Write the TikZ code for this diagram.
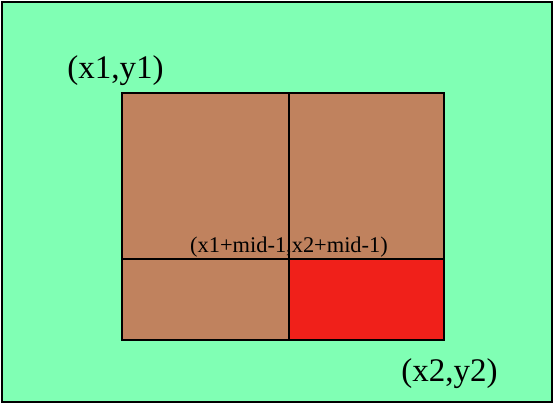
\documentclass[tikz,border=0pt]{standalone}
\usepackage{fontspec}
\setmainfont{Liberation Serif}
\usepackage{tikz}
\usetikzlibrary{positioning}
\definecolor{verdecito}{RGB}{128,255,180}
\definecolor{cafecito}{RGB}{192,130,94}
\definecolor{rojito}{RGB}{240,32,26}
\tikzset{
  cell/.style={draw=black, line width=1.6pt, fill=cafecito},
  corner label/.style={inner sep=0pt, anchor=base, font=\fontsize{33}{38}\selectfont},
  mid label/.style={inner sep=0pt, anchor=base, font=\fontsize{22.4}{26}\selectfont}
}

\begin{document}
\begin{tikzpicture}[x=1pt, y=-1pt]
    \useasboundingbox (0,0) rectangle (554,404);
    % outer region
    \draw[line width=1.8pt, fill=verdecito] (2,2) rectangle (552,402);
    % four quadrants
    \draw[cell] (122,93) rectangle (289,259);
    \draw[cell] (289,93) rectangle (444,259);
    \draw[cell] (122,259) rectangle (289,340);
    \draw[cell, fill=rojito] (289,259) rectangle (444,340);
    % corner labels
    \node[corner label] (topleft) at (115.5,78) {(x1,y1)};
    \node[corner label] (bottomright) at (449.5,381) {(x2,y2)};
    % midpoint label
    \node[mid label] (midpoint) at (289,252) {(x1+mid-1,x2+mid-1)};
\end{tikzpicture}
\end{document}
